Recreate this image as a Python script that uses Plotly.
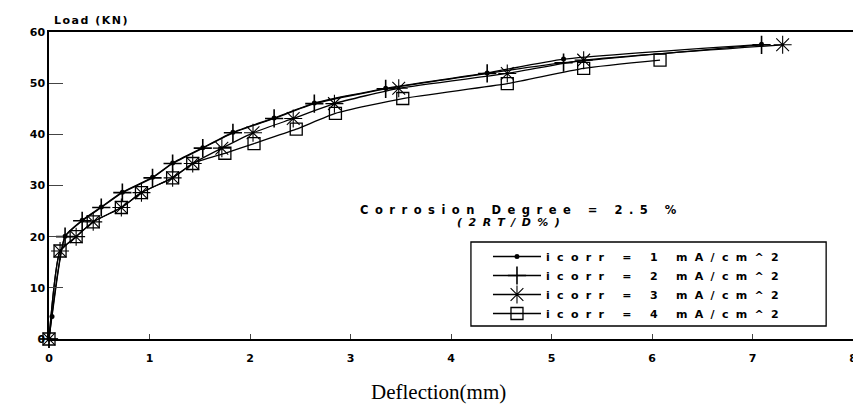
import plotly.graph_objects as go

# ---- data ----
x_1 = [0, 0.03, 0.16, 0.33, 0.52, 0.73, 1.03, 1.23, 1.53, 1.83, 2.24, 2.64, 3.35, 4.36, 5.12, 7.09]
y_1 = [0, 4.4, 20.1, 23.2, 25.8, 28.7, 31.6, 34.4, 37.4, 40.4, 43.2, 46.1, 49.0, 52.0, 54.7, 57.6]

x_2 = [0, 0.16, 0.33, 0.52, 0.73, 1.03, 1.23, 1.53, 1.83, 2.24, 2.64, 3.35, 4.36, 5.12, 7.09]
y_2 = [0, 20.0, 23.1, 25.7, 28.6, 31.5, 34.3, 37.3, 40.3, 43.1, 46.0, 48.9, 51.9, 54.0, 57.5]

x_3 = [0, 0.11, 0.27, 0.44, 0.72, 0.92, 1.23, 1.43, 1.72, 2.03, 2.43, 2.84, 3.48, 4.56, 5.32, 7.30]
y_3 = [0, 17.2, 20.0, 22.9, 25.7, 28.6, 31.5, 34.3, 37.3, 40.3, 43.1, 46.0, 49.0, 51.9, 54.5, 57.5]

x_4 = [0, 0.11, 0.27, 0.44, 0.72, 0.92, 1.23, 1.43, 1.75, 2.04, 2.46, 2.85, 3.52, 4.56, 5.32, 6.08]
y_4 = [0, 17.2, 20.0, 22.9, 25.7, 28.6, 31.5, 34.3, 36.3, 38.2, 41.0, 44.1, 47.0, 49.9, 52.9, 54.5]

series_names = ["icorr = 1 mA/cm^2", "icorr = 2 mA/cm^2", "icorr = 3 mA/cm^2", "icorr = 4 mA/cm^2"]
x_ticks = [0, 1, 2, 3, 4, 5, 6, 7, 8]
y_ticks = [0, 10, 20, 30, 40, 50, 60]

y_title = "Load (KN)"
x_title = "Deflection(mm)"
note_1 = "Corrosion Degree = 2.5 %"
note_2 = "(2RT/D%)"


def spaced(t, sp):
    return f'<span style="letter-spacing:{sp}px">{t}</span>'


fig = go.Figure()
styles = [
    dict(symbol="circle", size=5, line=dict(width=0)),
    dict(symbol="cross-thin", size=13, line=dict(width=1.6, color="black")),
    dict(symbol="asterisk", size=15, line=dict(width=1.1, color="black")),
    dict(symbol="square-open", size=12, line=dict(width=1.3, color="black")),
]
for xs, ys, name, st in zip([x_1, x_2, x_3, x_4], [y_1, y_2, y_3, y_4], series_names, styles):
    fig.add_trace(go.Scatter(
        x=xs, y=ys, mode="lines+markers", name=spaced(name, 7.3),
        line=dict(color="black", width=1.3, shape="spline", smoothing=0.5),
        marker=dict(color="black", **st),
        cliponaxis=False,
    ))

font_sans = "DejaVu Sans"
# the page body has an 8px margin; the figure is sized to end at the window edge
fig.update_layout(
    width=853, height=397,
    margin=dict(l=41, r=4, t=24, b=66),
    paper_bgcolor="white", plot_bgcolor="white",
    showlegend=True,
    legend=dict(
        x=0.546, y=0.316, xanchor="left", yanchor="top",
        bgcolor="rgba(0,0,0,0)", borderwidth=0,
        font=dict(family=font_sans, size=11, color="black", weight="bold"),
        tracegroupgap=0, itemwidth=48,
    ),
    xaxis=dict(
        range=[0, 8], tickvals=x_ticks, ticks="inside", ticklen=5, tickwidth=1.2,
        showline=True, linecolor="black", linewidth=1.5, mirror=True,
        showgrid=False, zeroline=False, ticklabelstandoff=8,
        tickfont=dict(family=font_sans, size=11, color="black", weight="bold"),
    ),
    yaxis=dict(
        range=[0, 60], tickvals=y_ticks, ticks="inside", ticklen=14, tickwidth=1.2,
        showline=True, linecolor="black", linewidth=1.5, mirror=True,
        showgrid=False, zeroline=False,
        tickfont=dict(family=font_sans, size=11, color="black", weight="bold"),
    ),
    shapes=[dict(type="rect", xref="paper", yref="paper",
                 x0=0.5248, x1=0.9666, y0=0.0423, y1=0.316,
                 line=dict(color="black", width=1.3))],
    annotations=[
        dict(text=spaced(y_title, 1.5), xref="paper", yref="paper", x=0.004, y=1.036,
             xanchor="left", yanchor="middle", showarrow=False,
             font=dict(family=font_sans, size=11, color="black", weight="bold")),
        dict(text=x_title, xref="paper", yref="paper", x=0.485, y=-0.173,
             xanchor="center", yanchor="middle", showarrow=False,
             font=dict(family="Liberation Serif", size=21, color="black")),
        dict(text=spaced(note_1, 6.5), xref="paper", yref="paper", x=0.588, y=0.420,
             xanchor="center", yanchor="middle", showarrow=False,
             font=dict(family=font_sans, size=11.5, color="black", weight="bold")),
        dict(text="<i>" + spaced(note_2, 6.5) + "</i>", xref="paper", yref="paper", x=0.575, y=0.381,
             xanchor="center", yanchor="middle", showarrow=False,
             font=dict(family=font_sans, size=11, color="black", weight="bold")),
    ],
)

fig.write_html("out.html")
